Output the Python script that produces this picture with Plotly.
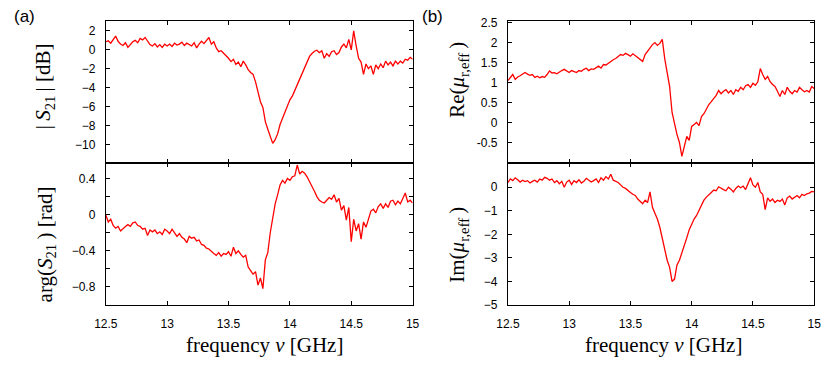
import plotly.graph_objects as go

# ---------------- data ----------------
FREQ_START_GHZ = 12.5
FREQ_STEP_GHZ = 0.02
N_POINTS = 126
freq_ghz = [round(FREQ_START_GHZ + FREQ_STEP_GHZ * i, 2) for i in range(N_POINTS)]

s21_mag_db = [
    0.85, 0.95, 0.7, 1.05, 1.45, 0.9, 0.6, 0.45, 0.75, 0.25,
    0.6, 0.85, 1.0, 0.75, 1.2, 1.05, 1.3, 0.85, 0.55, 0.4,
    0.65, 0.3, 0.55, 0.25, 0.6, 0.4, 0.6, 0.35, 0.7, 0.5,
    0.6, 0.8, 0.45, 0.7, 0.55, 0.4, 0.75, 0.2, 0.6, 0.9,
    0.65, 1.0, 1.3, 0.6, 0.85, 0.2, -0.2, -0.1, -0.35, -0.65,
    -0.9, -1.25, -1.0, -1.55, -1.3, -1.8, -1.2, -1.6, -2.1, -2.4,
    -2.6, -3.4, -4.6, -5.5, -6.1, -7.6, -8.4, -9.2, -9.9, -9.5,
    -8.9, -7.9, -7.3, -6.5, -5.9, -5.3, -4.9, -4.3, -3.8, -3.2,
    -2.6, -1.9, -1.3, -0.7, -0.4, -0.15, -0.05, -0.3, -0.1, -0.9,
    -0.4, -0.7, -0.2, -0.1, -0.5, -0.3, 0.3, 0.6, 0.2, 1.1,
    0.0, 2.0, 0.4, -0.9, -1.3, -2.6, -1.5, -2.0, -1.7, -2.6,
    -1.6, -2.0, -1.5, -1.9, -1.2, -1.6, -1.3, -1.7, -1.2, -1.5,
    -1.2, -1.4, -1.0, -1.1, -0.8, -1.0,
]

s21_arg_rad = [
    0.0, -0.08, -0.05, -0.12, -0.15, -0.13, -0.18, -0.15, -0.13, -0.11,
    -0.13, -0.09, -0.08, -0.12, -0.13, -0.16, -0.15, -0.23, -0.17, -0.19,
    -0.17, -0.21, -0.19, -0.22, -0.16, -0.18, -0.21, -0.16, -0.2, -0.24,
    -0.21, -0.25, -0.27, -0.31, -0.24, -0.26, -0.25, -0.29, -0.28, -0.33,
    -0.34, -0.37, -0.38, -0.41, -0.43, -0.45, -0.42, -0.46, -0.43, -0.44,
    -0.41, -0.46, -0.36, -0.43, -0.4, -0.44, -0.47, -0.45, -0.58, -0.62,
    -0.66, -0.63, -0.78, -0.7, -0.82, -0.5, -0.42, -0.2, -0.05, 0.12,
    0.22, 0.33, 0.38, 0.35, 0.4, 0.38, 0.42, 0.43, 0.55, 0.45,
    0.48, 0.46, 0.42, 0.36, 0.3, 0.26, 0.2, 0.16, 0.14, 0.13,
    0.16, 0.19, 0.17, 0.22, 0.14, 0.18, 0.05, 0.1, -0.06, 0.08,
    -0.3, -0.05, -0.18, -0.1, -0.27, -0.08, -0.14, -0.05, 0.04, 0.06,
    0.02, 0.09, 0.12, 0.07, 0.12, 0.08, 0.15, 0.16, 0.11, 0.15,
    0.12, 0.18, 0.24, 0.14, 0.16, 0.13,
]

mu_re = [
    1.05, 1.12, 1.2, 1.08, 1.14, 1.17, 1.22, 1.25, 1.21, 1.18,
    1.2, 1.13, 1.16, 1.12, 1.15, 1.13, 1.2, 1.29, 1.24, 1.25,
    1.22, 1.27, 1.3, 1.33, 1.28, 1.25, 1.3, 1.27, 1.25, 1.3,
    1.28, 1.33, 1.36, 1.3, 1.34, 1.33, 1.38, 1.41, 1.36, 1.45,
    1.44, 1.49, 1.52, 1.57, 1.6, 1.64, 1.7, 1.68, 1.73, 1.7,
    1.66, 1.72, 1.67, 1.62, 1.58, 1.53, 1.7, 1.78, 1.88, 1.95,
    2.0, 1.93, 1.98, 2.08, 1.6, 1.2, 0.9, 0.25, -0.05, -0.3,
    -0.5, -0.85, -0.6, -0.35, -0.45, -0.1, -0.05, 0.0, -0.08, 0.15,
    0.22, 0.35, 0.45, 0.52, 0.6, 0.68, 0.8, 0.72, 0.78, 0.82,
    0.74, 0.8, 0.7, 0.82, 0.78, 0.88, 0.82, 0.92, 0.95, 0.88,
    0.98, 0.93, 1.02, 1.35, 1.2, 1.08, 1.15, 1.02, 0.95, 0.9,
    0.78, 0.65, 0.8, 0.7, 0.88, 0.78, 0.72, 0.8, 0.76, 0.88,
    0.82, 0.77, 0.8, 0.76, 0.9, 0.85,
]

mu_im = [
    0.2, 0.35, 0.28, 0.4, 0.32, 0.22, 0.3, 0.24, 0.28, 0.18,
    0.25, 0.3, 0.22, 0.35, 0.3, 0.42, 0.38, 0.3, 0.35, 0.2,
    0.28, 0.15, 0.25, 0.0, 0.22, 0.3, 0.12, 0.28, 0.2, 0.32,
    0.18, 0.25, 0.38, 0.3, 0.22, 0.28, 0.35, 0.2, 0.4, 0.3,
    0.45, 0.35, 0.55, 0.3, 0.25, 0.2, 0.1, 0.0, -0.05, -0.15,
    -0.22, -0.3, -0.35, -0.5, -0.62, -0.7, -0.55, -0.65, -0.2, -0.85,
    -1.1, -1.35, -1.7, -2.2, -2.7, -3.1, -3.4, -4.0, -3.9, -3.3,
    -3.1, -2.8, -2.5, -2.15, -1.8, -1.55, -1.35, -1.2, -1.0, -0.8,
    -0.55, -0.42, -0.3, -0.22, -0.12, -0.15, 0.02, -0.05, -0.1, -0.15,
    0.0, -0.08, -0.2, -0.05, 0.05, -0.02, 0.05, -0.1, 0.15, 0.4,
    0.1, 0.0, 0.2, -0.2, -0.3, -0.95, -0.45, -0.6, -0.5, -0.65,
    -0.55, -0.6, -0.5, -0.75, -0.45, -0.38, -0.5, -0.42, -0.35, -0.45,
    -0.3, -0.35, -0.28, -0.25, -0.18, -0.2,
]

x_tickvals = [12.5, 13, 13.5, 14, 14.5, 15]
x_ticktext = ["12.5", "13", "13.5", "14", "14.5", "15"]
mag_tickvals = [-10, -8, -6, -4, -2, 0, 2]
mag_ticktext = ["\u221210", "\u22128", "\u22126", "\u22124", "\u22122", "0", "2"]
arg_tickvals = [-0.8, -0.6, -0.4, -0.2, 0, 0.2, 0.4]
arg_ticktext = ["\u22120.8", "", "\u22120.4", "", "0", "", "0.4"]
re_tickvals = [-0.5, 0, 0.5, 1, 1.5, 2, 2.5]
re_ticktext = ["-0.5", "0", "0.5", "1", "1.5", "2", "2.5"]
im_tickvals = [-5, -4, -3, -2, -1, 0]
im_ticktext = ["\u22125", "\u22124", "\u22123", "\u22122", "\u22121", "0"]

# ---------------- figure ----------------
W, H = 830, 366
RED = "#ff0000"
SANS = "Liberation Sans, Arial, sans-serif"
SERIF = "Liberation Serif, Times New Roman, serif"


def px_x(x):
    return x / W


def px_y(y):
    return 1 - y / H


fig = go.Figure()
series = [
    (s21_mag_db, "x", "y"),
    (s21_arg_rad, "x2", "y2"),
    (mu_re, "x3", "y3"),
    (mu_im, "x4", "y4"),
]
for vals, xa, ya in series:
    fig.add_trace(go.Scatter(x=freq_ghz, y=vals, mode="lines", xaxis=xa, yaxis=ya,
                             line=dict(color=RED, width=1.3), showlegend=False,
                             hoverinfo="skip"))

common = dict(showline=True, linecolor="black", linewidth=1, mirror="allticks",
              ticks="inside", ticklen=4, tickwidth=1, tickcolor="black",
              showgrid=False, zeroline=False,
              tickfont=dict(family=SANS, size=12, color="black"))

L_DOM = [px_x(96), px_x(410)]
R_DOM = [px_x(507.5), px_x(821)]
T_DOM = [px_y(163), px_y(16)]
B_DOM = [px_y(310), px_y(163)]

xcommon = dict(common, range=[12.5, 15], tickmode="array", tickvals=x_tickvals,
               ticktext=x_ticktext, ticklabelstandoff=8)
ycommon = dict(common, ticklabelstandoff=7)

fig.update_layout(
    width=W, height=H,
    margin=dict(l=0, r=0, t=0, b=0),
    paper_bgcolor="white", plot_bgcolor="white",
    xaxis=dict(xcommon, domain=L_DOM, anchor="y", showticklabels=False),
    yaxis=dict(ycommon, domain=T_DOM, anchor="x", range=[-12, 3], tickmode="array",
               tickvals=mag_tickvals, ticktext=mag_ticktext),
    xaxis2=dict(xcommon, domain=L_DOM, anchor="y2"),
    yaxis2=dict(ycommon, domain=B_DOM, anchor="x2", range=[-1, 0.57], tickmode="array",
                tickvals=arg_tickvals, ticktext=arg_ticktext),
    xaxis3=dict(xcommon, domain=R_DOM, anchor="y3", showticklabels=False),
    yaxis3=dict(ycommon, domain=T_DOM, anchor="x3", range=[-1.02, 2.53], tickmode="array",
                tickvals=re_tickvals, ticktext=re_ticktext),
    xaxis4=dict(xcommon, domain=R_DOM, anchor="y4"),
    yaxis4=dict(ycommon, domain=B_DOM, anchor="x4", range=[-5, 1.02], tickmode="array",
                tickvals=im_tickvals, ticktext=im_ticktext),
)

annotations = [
    ("(a)", 13, 11, 0, SANS, 17),
    ("(b)", 430, 11, 0, SANS, 17),
    ("|\u2009<i>S</i><sub>21</sub>\u2009| [dB]", 33, 83, -90, SERIF, 21),
    ("arg(<i>S</i><sub>21</sub>\u2009) [rad]", 35, 247, -90, SERIF, 21),
    ("Re(<i>μ</i><sub>r,eff</sub>\u2009)", 457, 77, -90, SERIF, 21),
    ("Im(<i>μ</i><sub>r,eff</sub>\u2009)", 457, 248, -90, SERIF, 21),
    ("frequency <i>ν</i> [GHz]", 258, 352, 0, SERIF, 21),
    ("frequency <i>ν</i> [GHz]", 667, 352, 0, SERIF, 21),
]
for text, x, y, ang, fam, size in annotations:
    fig.add_annotation(text=text, x=px_x(x), y=px_y(y), xref="paper", yref="paper",
                       showarrow=False, textangle=ang, xanchor="center",
                       yanchor="middle", font=dict(family=fam, size=size, color="black"))

fig.write_html(
    "out.html",
    config={"displayModeBar": False},
    post_script="document.body.style.margin='0';document.body.style.overflow='hidden';",
)
